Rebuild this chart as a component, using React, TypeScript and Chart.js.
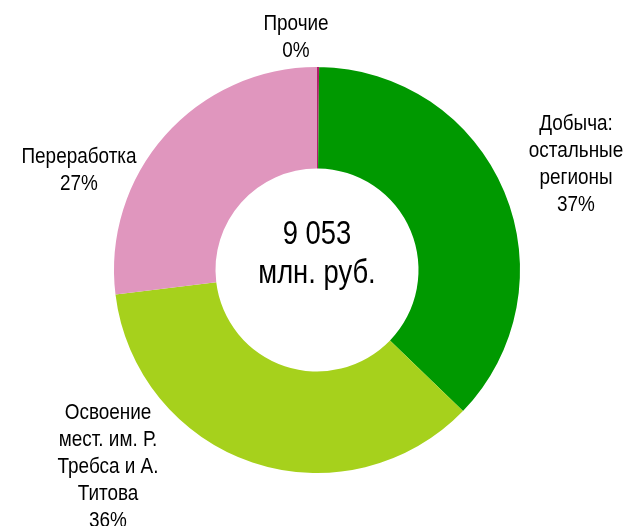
import React, { useEffect, useRef } from "react";
import { Chart, registerables } from "chart.js";

Chart.register(...registerables);

const categories: string[][] = [
  ["Прочие"],
  ["Добыча:", "остальные", "регионы"],
  ["Освоение", "мест. им. Р.", "Требса и А.", "Титова"],
  ["Переработка"],
];
const values: number[] = [15, 3355, 3245, 2438];
const colors: string[] = ["#B0206A", "#009900", "#A6D11C", "#E096BE"];
const unitLabel = "млн. руб.";

// label anchor offsets from the doughnut centre (x of line centre, y of first line centre)
const labelOffsets: [number, number][] = [
  [-21, -246],
  [259, -146],
  [-209, 143],
  [-238, -113],
];

const FONT = "'Liberation Sans', Arial, sans-serif";

function formatTotal(n: number): string {
  return String(Math.round(n)).replace(/\B(?=(\d{3})+(?!\d))/g, " ");
}

function narrowText(ctx: CanvasRenderingContext2D, t: string, x: number, y: number, k: number) {
  ctx.save();
  ctx.translate(x, y);
  ctx.scale(k, 1);
  ctx.fillText(t, 0, 0);
  ctx.restore();
}

export default function App() {
  const ref = useRef<HTMLCanvasElement | null>(null);

  useEffect(() => {
    if (!ref.current) return;
    const total = values.reduce((a, b) => a + b, 0);

    const labelPlugin = {
      id: "customLabels",
      afterDraw(chart: any) {
        const ctx = chart.ctx as CanvasRenderingContext2D;
        const meta = chart.getDatasetMeta(0);
        const arc0 = meta.data[0] as any;
        const cx = arc0.x;
        const cy = arc0.y;
        ctx.save();
        ctx.fillStyle = "#000";
        ctx.textAlign = "center";
        ctx.textBaseline = "middle";
        ctx.font = `22px ${FONT}`;
        const lh = 27;
        categories.forEach((lines, i) => {
          const pct = Math.round((values[i] / total) * 100) + "%";
          const all = [...lines, pct];
          const [ox, oy] = labelOffsets[i];
          all.forEach((t, j) => {
            narrowText(ctx, t, cx + ox, cy + oy + j * lh, 0.86);
          });
        });
        ctx.font = `33px ${FONT}`;
        narrowText(ctx, formatTotal(total), cx, cy - 35, 0.83);
        narrowText(ctx, unitLabel, cx, cy + 4, 0.83);
        ctx.restore();
      },
    };

    const chart = new Chart(ref.current, {
      type: "doughnut",
      data: {
        labels: categories.map((c) => c.join(" ")),
        datasets: [
          {
            data: values,
            backgroundColor: colors,
            borderWidth: 0,
          },
        ],
      },
      options: {
        responsive: false,
        animation: false,
        cutout: "50%",
        layout: { padding: { top: 67, bottom: 53, left: 6, right: 0 } },
        plugins: {
          legend: { display: false },
          tooltip: { enabled: false },
        },
      },
      plugins: [labelPlugin],
    });
    return () => chart.destroy();
  }, []);

  return (
    <div style={{ position: "fixed", left: 0, top: 0, width: 628, height: 526, background: "#fff" }}>
      <canvas ref={ref} width={628} height={526} />
    </div>
  );
}
